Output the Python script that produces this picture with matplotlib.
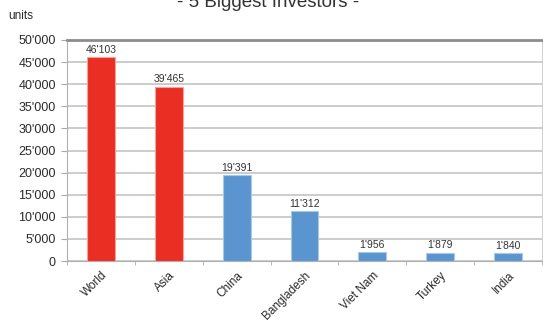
import matplotlib
matplotlib.use("Agg")
import matplotlib.pyplot as plt
from matplotlib.ticker import FuncFormatter, FixedLocator

countries = ["World", "Asia", "China", "Bangladesh", "Viet Nam", "Turkey", "India"]
values = [46103, 39465, 19391, 11312, 1956, 1879, 1840]
colors = ["#ea2e24", "#ea2e24", "#5b95cf", "#5b95cf", "#5b95cf", "#5b95cf", "#5b95cf"]
edges = ["#f4a49c", "#f4a49c", "#a8c8e8", "#a8c8e8", "#a8c8e8", "#a8c8e8", "#a8c8e8"]

def swiss(v):
    return f"{int(v):,}".replace(",", "'")

plt.rcParams['font.family'] = ['Liberation Sans', 'DejaVu Sans']

fig = plt.figure(figsize=(5.43, 3.3), dpi=100)
ax = fig.add_axes([67/543, 1 - 261/330, 475/543, 221/330])

x = range(len(countries))
ax.bar(x, values, width=0.41, color=colors, edgecolor=edges, linewidth=0.8, zorder=3)
for i, v in enumerate(values):
    ax.text(i, v + 500, swiss(v), ha="center", va="bottom", fontsize=7.5, color="#333333")

ax.set_xlim(-0.5, len(countries) - 0.5)
ax.set_ylim(0, 50000)
ax.set_yticks(range(0, 50001, 5000))
ax.yaxis.set_major_formatter(FuncFormatter(lambda v, p: swiss(v)))
ax.yaxis.grid(True, color="#c8c8c8", linewidth=1.3, zorder=0)

ax.set_xticks(list(x))
ax.set_xticklabels(countries, rotation=45, ha="right", rotation_mode="anchor", fontsize=8.5, color="#2a2a2a")
ax.tick_params(axis="x", length=0, pad=6)
ax.xaxis.set_minor_locator(FixedLocator([i + 0.5 for i in range(-1, len(countries))]))
ax.tick_params(axis="x", which="minor", length=3, color="#aaaaaa")
ax.tick_params(axis="y", length=4, color="#aaaaaa", labelsize=9, labelcolor="#2a2a2a", pad=4)

ax.spines["top"].set_color("#8c8c8c")
ax.spines["top"].set_linewidth(2)
ax.spines["left"].set_color("#b0b0b0")
ax.spines["right"].set_color("#d0d0d0")
ax.spines["bottom"].set_color("#b0b0b0")

# title sits partly above the top edge, as in the source picture
fig.text(268/543, 1 - 7/330, "- 5 Biggest Investors -", ha="center", va="baseline", fontsize=13.5, color="#333333")
fig.text(8/543, 1 - 16/330, "units", ha="left", va="center", fontsize=8.5, color="#2a2a2a")

fig.savefig("out.png", dpi=100)
